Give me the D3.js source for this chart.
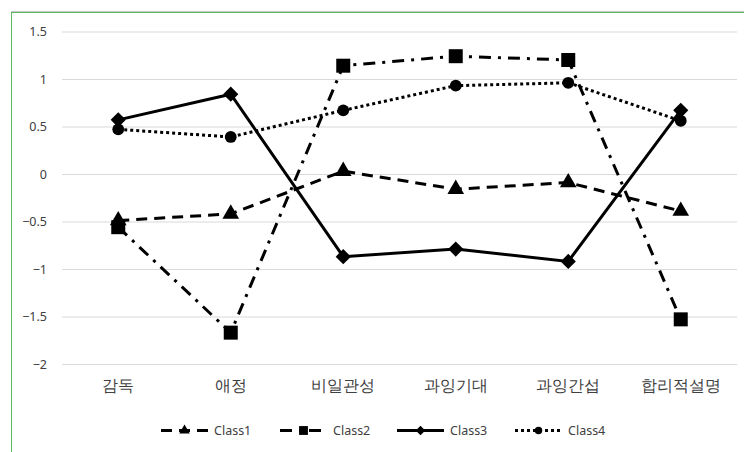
<!DOCTYPE html>
<html>
<head>
<meta charset="utf-8">
<script src="https://cdn.jsdelivr.net/npm/d3@7"></script>
<style>
  html, body { margin: 0; padding: 0; background: #fff; }
  svg { display: block; }
</style>
</head>
<body>
<div id="chart"></div>
<script>
// data
const categories = ["감독", "애정", "비일관성", "과잉기대", "과잉간섭", "합리적설명"]
const class1 = [-0.49, -0.42, 0.03, -0.16, -0.09, -0.39]
const class2 = [-0.56, -1.67, 1.14, 1.24, 1.2, -1.53]
const class3 = [0.57, 0.84, -0.87, -0.79, -0.92, 0.67]
const class4 = [0.47, 0.39, 0.67, 0.93, 0.96, 0.56]
const seriesNames = ["Class1", "Class2", "Class3", "Class4"]
const yTicks = [1.5, 1, 0.5, 0, -0.5, -1, -1.5, -2]

width = 744
height = 452
margin = ({top: 31.5, right: 7, bottom: 88, left: 62})

const series = [
  {name: seriesNames[0], values: class1, dash: "11,7", symbol: d3.symbolTriangle, size: 120, rot: 0},
  {name: seriesNames[1], values: class2, dash: "12,7,3,7", symbol: d3.symbolSquare, size: 196, rot: 0},
  {name: seriesNames[2], values: class3, dash: null, symbol: d3.symbolSquare, size: 115, rot: 45},
  {name: seriesNames[3], values: class4, dash: "3,3", symbol: d3.symbolCircle, size: 110, rot: 0}
]

x = d3.scaleBand()
    .domain(categories)
    .range([margin.left, width - margin.right])
y = d3.scaleLinear()
    .domain([-2, 1.5])
    .range([height - margin.bottom, margin.top])

const svg = d3.select("#chart").append("svg")
    .attr("width", width)
    .attr("height", height)
    .style("font-family", "'Noto Sans CJK KR', 'Noto Sans', sans-serif")

// chart area border (green, partly cropped)
svg.append("line").attr("x1", 11).attr("x2", width).attr("y1", 11.5).attr("y2", 11.5)
    .attr("stroke", "#c8c8c8").attr("stroke-width", 1)
svg.append("line").attr("x1", 11).attr("x2", width).attr("y1", 12.5).attr("y2", 12.5)
    .attr("stroke", "#5cb85c").attr("stroke-width", 1)
svg.append("line").attr("x1", 11.5).attr("x2", 11.5).attr("y1", 12).attr("y2", height)
    .attr("stroke", "#5cb85c").attr("stroke-width", 1)

// gridlines + y labels
const yAxis = g => g
    .attr("transform", `translate(${margin.left},0)`)
    .call(d3.axisLeft(y).tickValues(yTicks).tickSize(-(width - margin.right - margin.left)).tickPadding(15).tickFormat(d3.format("")))
    .call(g => g.select(".domain").remove())
    .call(g => g.selectAll(".tick line").attr("stroke", "#d9d9d9").attr("stroke-width", 1))
    .call(g => g.selectAll(".tick text").attr("fill", "#404040").style("font-size", "12.5px")
        .style("font-family", "'Noto Sans', 'DejaVu Sans', sans-serif"))
svg.append("g").call(yAxis)

// category labels
const xAxis = g => g
    .attr("transform", `translate(0,${height - margin.bottom})`)
    .call(d3.axisBottom(x).tickSize(0).tickPadding(16))
    .call(g => g.select(".domain").remove())
    .call(g => g.selectAll(".tick text").attr("fill", "#404040").style("font-size", "15.5px"))
svg.append("g").call(xAxis)

const line = d3.line()
    .x((d, i) => x(categories[i]) + x.bandwidth() / 2)
    .y(d => y(d))

const plot = svg.append("g")

series.forEach(s => {
  plot.append("path")
      .datum(s.values)
      .attr("fill", "none")
      .attr("stroke", "#000")
      .attr("stroke-width", 3)
      .attr("stroke-dasharray", s.dash)
      .attr("d", line)
})

series.forEach(s => {
  plot.append("g")
      .selectAll("path")
      .data(s.values)
      .join("path")
      .attr("transform", (d, i) => `translate(${x(categories[i]) + x.bandwidth() / 2},${y(d)}) rotate(${s.rot})`)
      .attr("d", d3.symbol().type(s.symbol).size(s.size))
      .attr("fill", "#000")
})

// legend
const legendX = [161, 280, 397, 515]
const legend = svg.append("g")
    .attr("transform", `translate(0,${height - 21.5})`)
    .selectAll("g")
    .data(series)
    .join("g")
    .attr("transform", (d, i) => `translate(${legendX[i]},0)`)

legend.append("line")
    .attr("x1", 0).attr("x2", 47)
    .attr("stroke", "#000")
    .attr("stroke-width", 3)
    .attr("stroke-dasharray", d => d.dash)

legend.append("path")
    .attr("transform", d => `translate(23.5,0) rotate(${d.rot})`)
    .attr("d", d => d3.symbol().type(d.symbol).size(d.size * 0.4)())
    .attr("fill", "#000")

legend.append("text")
    .attr("x", 53)
    .attr("dy", "0.35em")
    .attr("fill", "#404040")
    .style("font-size", "12.5px")
    .style("font-family", "'Noto Sans', 'DejaVu Sans', sans-serif")
    .text(d => d.name)
</script>
</body>
</html>
